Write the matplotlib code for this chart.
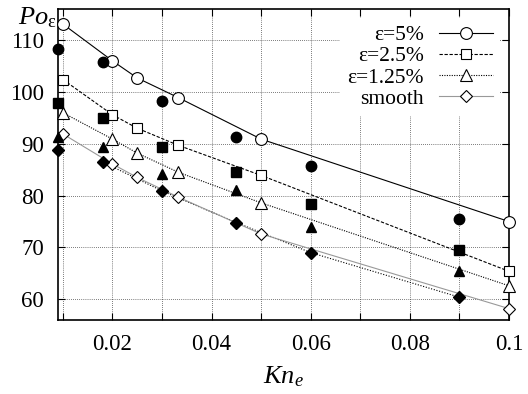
import numpy as np
import matplotlib
matplotlib.use("Agg")
import matplotlib.pyplot as plt
from matplotlib.ticker import MultipleLocator, FixedLocator

plt.rcParams["font.family"] = ["Liberation Serif", "DejaVu Serif"]
plt.rcParams["mathtext.fontset"] = "custom"
plt.rcParams["mathtext.rm"] = "Liberation Serif"
plt.rcParams["mathtext.it"] = "Liberation Serif:italic"

# ── Data ───────────────────────────────────────────────────────
kn_open = [0.01, 0.02, 0.025, 0.0333, 0.05, 0.1]
kn_filled = [0.009, 0.018, 0.03, 0.045, 0.06, 0.09]

po_5 = [113.1, 106.0, 102.7, 98.9, 90.9, 75.0]
po_2_5 = [102.4, 95.6, 93.0, 89.7, 83.9, 65.4]
po_1_25 = [96.0, 90.9, 88.2, 84.5, 78.6, 62.6]
po_smooth = [91.9, 86.1, 83.5, 79.7, 72.6, 58.2]

po_5_f = [108.2, 105.7, 98.3, 91.3, 85.8, 75.4]
po_2_5_f = [97.9, 94.9, 89.3, 84.5, 78.4, 69.6]
po_1_25_f = [91.4, 89.4, 84.2, 81.1, 73.9, 65.5]
po_smooth_f = [88.9, 86.5, 80.9, 74.8, 69.0, 60.4]

labels = ["ε=5%", "ε=2.5%", "ε=1.25%", "smooth"]

fig = plt.figure(figsize=(5.28, 3.94), dpi=100)
ax = fig.add_axes([0.1098, 0.1878, 0.8542, 0.7892])

series = [
    (po_5, po_5_f, "o", "-", "black", 8.5, 7.5),
    (po_2_5, po_2_5_f, "s", (0, (3, 1.5)), "black", 7.5, 7.0),
    (po_1_25, po_1_25_f, "^", (0, (1, 1.2)), "black", 8.0, 7.5),
    (po_smooth, po_smooth_f, "D", "-", "#999999", 6.5, 6.0),
]
for (op, fp, mk, ls, lc, ms_o, ms_f), lab in zip(series, labels):
    ax.plot(kn_open, op, linestyle=ls, color=lc, linewidth=0.8,
            marker=mk, markersize=ms_o, markerfacecolor="white",
            markeredgecolor="black", markeredgewidth=0.8, label=lab,
            zorder=3, clip_on=False)
    ax.plot(kn_filled, fp, linestyle="none", marker=mk, markersize=ms_f,
            color="black", zorder=4, clip_on=False)

# dotted trend through the filled "smooth" points
ax.plot(kn_filled[1:], po_smooth_f[1:], linestyle=(0, (1, 1.5)),
        color="black", linewidth=0.8, zorder=2)

ax.set_xlim(0.009, 0.1)
ax.set_ylim(56, 116)
ax.xaxis.set_major_locator(FixedLocator([0.02, 0.04, 0.06, 0.08, 0.1]))
ax.xaxis.set_minor_locator(FixedLocator([0.01, 0.03, 0.05, 0.07, 0.09]))
ax.set_xticklabels(["0.02", "0.04", "0.06", "0.08", "0.1"])
ax.yaxis.set_major_locator(MultipleLocator(10))

ax.tick_params(which="both", direction="in", top=True, right=True,
               labelsize=16.5, width=0.8, color="black", length=5)
ax.tick_params(axis="x", which="major", pad=10)
ax.tick_params(axis="y", which="major", pad=10)
ax.grid(True, which="both", axis="x", linestyle=(0, (1, 2)),
        color="black", linewidth=0.5)
ax.grid(True, which="major", axis="y", linestyle=(0, (1, 2)),
        color="black", linewidth=0.5)
for sp in ax.spines.values():
    sp.set_linewidth(1.2)

leg = ax.legend(loc="upper right", markerfirst=False, fontsize=15.5,
                handlelength=2.5, handletextpad=0.7, labelspacing=0.05,
                borderaxespad=0.4, borderpad=0.35, frameon=True,
                fancybox=False, framealpha=1.0, edgecolor="none",
                facecolor="white")
leg.set_zorder(5)

fig.text(0.034, 0.955, r"$Po_{\mathrm{\epsilon}}$", fontsize=19,
         ha="left", va="center")
fig.text(0.537, 0.043, r"$Kn_e$", fontsize=19, ha="center", va="center")

fig.savefig("out.png", dpi=100)
